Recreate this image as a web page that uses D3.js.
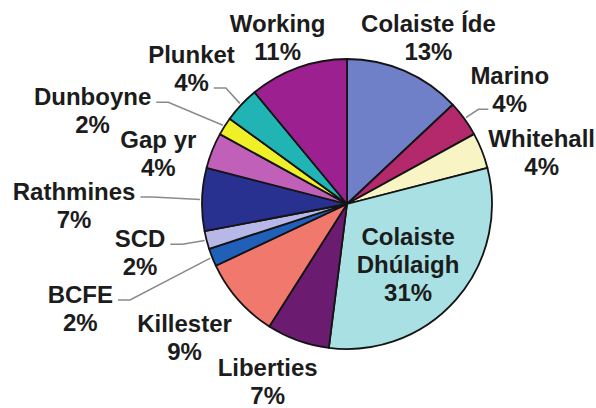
<!DOCTYPE html>
<html>
<head>
<meta charset="utf-8">
<script src="https://cdn.jsdelivr.net/npm/d3@7"></script>
<style>
  html, body { margin: 0; padding: 0; background: #fff; }
  svg { display: block; }
  .lbl { font-family: "Liberation Sans", Arial, sans-serif; font-weight: bold; font-size: 24px; fill: #1c1c1c; }
</style>
</head>
<body>
<svg id="chart" width="596" height="408"></svg>
<script>
// Destinations, clockwise from 12 o'clock
const categories = ['Colaiste Íde', 'Marino', 'Whitehall', 'Colaiste Dhúlaigh', 'Liberties', 'Killester',
  'BCFE', 'SCD', 'Rathmines', 'Gap yr', 'Dunboyne', 'Plunket', 'Working'];
const shares = [13, 4, 4, 31, 7, 9, 2, 2, 7, 4, 2, 4, 11];
const colors = ['#7080c8', '#b4286c', '#f8f4c4', '#a8e0e4', '#6c1c70', '#f0786c',
  '#2060b8', '#b8b8e8', '#283090', '#c060b8', '#f0f028', '#20b4b4', '#9c2090'];

// label placement tweaks (px) relative to the default spot outside the slice
const nudge = {
  'Colaiste Íde': [6, 8], 'Marino': [9, -2], 'Whitehall': [18, 19], 'Colaiste Dhúlaigh': [-2, 5],
  'Liberties': [-15, -1], 'Killester': [-20, 8], 'BCFE': [-90, 35], 'SCD': [-23, 2],
  'Rathmines': [-83, 8], 'Gap yr': [-12, 20], 'Dunboyne': [-94, 9], 'Plunket': [-17, -5], 'Working': [-5, 13]
};
const leaders = {
  'Marino': { line: 1, side: 'left' }, 'Plunket': { line: 1, side: 'right' },
  'Dunboyne': { line: 0, side: 'right' }, 'Rathmines': { line: 0, side: 'right' },
  'SCD': { line: 0, side: 'right' }, 'BCFE': { line: 0, side: 'right' }
};
const inside = new Set(['Colaiste Dhúlaigh']);

const cx = 347, cy = 204, R = 145;
const lineH = 28, capH = 16;

const data = categories.map((c, i) => ({ name: c, value: shares[i], color: colors[i] }));
const pie = d3.pie().sort(null).value((d) => d.value);
const arcs = pie(data);

const arc = d3.arc().innerRadius(0).outerRadius(R);
const outerLabelArc = d3.arc().innerRadius(R + 45).outerRadius(R + 45);
const innerLabelArc = d3.arc().innerRadius(R * 0.58).outerRadius(R * 0.58);
const edgeArc = d3.arc().innerRadius(R + 2).outerRadius(R + 2);

const svg = d3.select('#chart');
const g = svg.append('g').attr('transform', `translate(${cx},${cy})`);

g.append('g')
  .selectAll('path')
  .data(arcs)
  .join('path')
  .attr('d', arc)
  .attr('fill', (d) => d.data.color)
  .attr('stroke', '#141414')
  .attr('stroke-width', 1.8)
  .attr('stroke-linejoin', 'round');

const leaderG = g.append('g');
const labelG = g.append('g');

arcs.forEach((d) => {
  const name = d.data.name;
  const isIn = inside.has(name);
  const lines = isIn ? [...name.split(' '), d.data.value + '%'] : [name, d.data.value + '%'];
  const c = (isIn ? innerLabelArc : outerLabelArc).centroid(d);
  const n = nudge[name] || [0, 0];
  const x = c[0] + n[0], y = c[1] + n[1];
  const base0 = y - (lines.length - 1) * lineH / 2 + capH / 2;

  const t = labelG.append('text').attr('class', 'lbl').attr('text-anchor', 'middle');
  const spans = lines.map((s, i) => t.append('tspan').attr('x', x).attr('y', base0 + i * lineH).text(s));

  const ld = leaders[name];
  if (ld) {
    const w = spans[ld.line].node().getComputedTextLength();
    const ly = base0 + ld.line * lineH - 3;
    const sx = ld.side === 'right' ? x + w / 2 + 5 : x - w / 2 - 4;
    const ex = ld.side === 'right' ? sx + 12 : sx - 10;
    const end = edgeArc.centroid(d);
    leaderG.append('path')
      .attr('d', d3.line()([[sx, ly], [ex, ly], end]))
      .attr('fill', 'none')
      .attr('stroke', '#8a8a8a')
      .attr('stroke-width', 1.5);
  }
});
</script>
</body>
</html>
